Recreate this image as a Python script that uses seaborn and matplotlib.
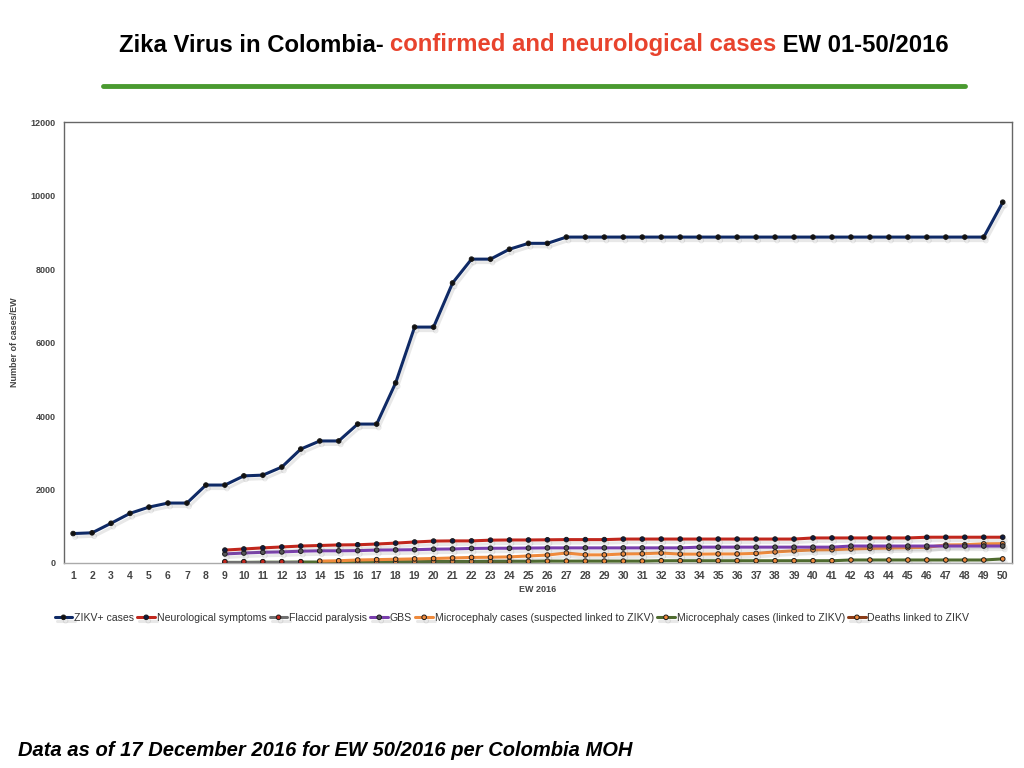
"""
Zika Virus in Colombia - confirmed and neurological cases, EW 01-50/2016
Recreation of the weekly cumulative case chart with seaborn.
"""

import numpy as np
import pandas as pd
import matplotlib
matplotlib.use('Agg')
import matplotlib.pyplot as plt
import matplotlib.patheffects as pe
from matplotlib.lines import Line2D
from matplotlib import font_manager
import seaborn as sns

sns.set_style('white')
plt.rcParams['font.family'] = ['Liberation Sans', 'DejaVu Sans']

# Narrow face for the title/legend if the system has it
installed = {f.name for f in font_manager.fontManager.ttflist}
NARROW = ['Liberation Sans Narrow', 'Liberation Sans', 'DejaVu Sans'] \
    if 'Liberation Sans Narrow' in installed else ['Liberation Sans', 'DejaVu Sans']

# Epidemiological weeks
weeks = list(range(1, 51))

# Series (NaN where the series is not reported)
nan = np.nan
zikv_cases = [800, 820, 1080, 1350, 1520, 1630, 1630, 2120, 2120, 2370,
              2390, 2610, 3100, 3320, 3320, 3780, 3780, 4900, 6420, 6420,
              7620, 8270, 8270, 8540, 8700, 8700] + [8870] * 23 + [9820]

neuro_symptoms = [nan] * 8 + [350, 380, 410, 435, 460, 475, 490, 495, 515, 540,
                              570, 595, 600, 600, 620, 625, 625, 630, 635, 635,
                              635] + [650] * 10 + [680] * 6 + [700] * 5

flaccid_paralysis = [nan] * 8 + [35, 35, 35, 35, 35] + [nan] * 37

gbs = [nan] * 8 + [245, 270, 290, 300, 320, 330, 330, 335, 350, 355,
                   360, 375, 380, 395, 400, 400, 405] + [410] * 8 + [430] * 8 + [460] * 9

micro_suspected = [nan] * 13 + [50, 60, 80, 90, 100, 110, 120, 135, 150, 155,
                                165, 190, 215, 270, 220, 220, 245, 250, 270, 240,
                                240, 245, 245, 260, 300, 330, 355, 360, 380, 395,
                                405, 415, 425, 490, 495, 520, 525]

micro_linked = [nan] * 8 + [15, 15, 20, 20, 25, 25, 30, 30, 30, 35,
                            35, 40, 40, 40, 45, 45, 45] + [50] * 6 + [60] * 10 + [80] * 8 + [110]

deaths = [nan] * 8 + [5, 5, 5, 5, 5, 8, 8, 8, 10, 10,
                      10, 12, 12, 18, 20, 22] + [nan] * 26

series_names = ['ZIKV+ cases', 'Neurological symptoms', 'Flaccid paralysis', 'GBS',
                'Microcephaly cases (suspected linked to ZIKV)',
                'Microcephaly cases (linked to ZIKV)', 'Deaths linked to ZIKV']
series_values = [zikv_cases, neuro_symptoms, flaccid_paralysis, gbs,
                 micro_suspected, micro_linked, deaths]
line_colors = ['#0f2a66', '#c1271d', '#707070', '#7a3fae', '#ef8a3c', '#4f6b2f', '#8a3b17']
marker_colors = ['#111111', '#0f1a40', '#c1271d', '#555555', '#ef8a3c', '#ef8a3c', '#ef8a3c']

y_ticks = list(range(0, 12001, 2000))

df = pd.DataFrame({'week': weeks})
for name, vals in zip(series_names, series_values):
    df[name] = vals

fig = plt.figure(figsize=(10.24, 7.68), dpi=100)
ax = fig.add_axes([0.0625, 0.267, 0.926, 0.574])

shadow = [pe.SimpleLineShadow(offset=(1.5, -2.5), alpha=0.15, shadow_color='#666666'), pe.Normal()]

# Draw back to front so the large series sits on top
order = [6, 5, 4, 2, 3, 1, 0]
for i in order:
    name = series_names[i]
    sub = df[['week', name]].dropna()
    sns.lineplot(data=sub, x='week', y=name, ax=ax, color=line_colors[i],
                 linewidth=2.2, marker='o', markersize=3.3,
                 markerfacecolor=marker_colors[i], markeredgecolor='#1a1a1a',
                 markeredgewidth=0.7, label=name, path_effects=shadow,
                 zorder=3 + (6 - i))

handles, labels = ax.get_legend_handles_labels()
ax.get_legend().remove()

ax.set_xlim(0.52, 50.5)
ax.set_ylim(0, 12000)
ax.set_xticks(weeks)
ax.set_xticklabels([str(w) for w in weeks], fontsize=7.5, fontweight='bold', color='#444444')
ax.set_yticks(y_ticks)
ax.set_yticklabels([str(t) for t in y_ticks], fontsize=6.5, fontweight='bold', color='#444444')
ax.tick_params(axis='both', length=0, pad=6)
ax.set_xlabel('EW 2016', fontsize=6.5, fontweight='bold', color='#444444', labelpad=3)
ax.set_ylabel('Number of cases/EW', fontsize=6.5, fontweight='bold', color='#444444', labelpad=4)
ax.yaxis.set_label_coords(-0.047, 0.5)
for side in ['left', 'top', 'right']:
    ax.spines[side].set_color('#666666')
    ax.spines[side].set_linewidth(1.0)
ax.spines['bottom'].set_color('#aaaaaa')
ax.spines['bottom'].set_linewidth(1.0)

# Legend in original series order, one row below the axis
lookup = dict(zip(labels, handles))
leg = fig.legend([lookup[n] for n in series_names], series_names, loc='center',
                 bbox_to_anchor=(0.5, 1 - 618 / 768), ncol=7, frameon=False,
                 prop={'family': NARROW, 'size': 7.6}, handlelength=1.7,
                 handletextpad=0.15, columnspacing=0.3, borderaxespad=0)
for txt in leg.get_texts():
    txt.set_color('#333333')

# Title in three colour pieces
fig.canvas.draw()
renderer = fig.canvas.get_renderer()
parts = [('Zika Virus in Colombia- ', '#000000'),
         ('confirmed and neurological cases', '#e8432d'),
         (' EW 01-50/2016', '#000000')]
title_texts = []
for s, c in parts:
    t = fig.text(0, 1 - 45 / 768, s, fontsize=17.2, fontweight='bold', color=c,
                 family=NARROW, va='center', ha='left')
    title_texts.append(t)
widths = [t.get_window_extent(renderer).width for t in title_texts]
x0 = (113 + 955) / 2 - sum(widths) / 2
for t, w in zip(title_texts, widths):
    t.set_x(x0 / 1024)
    x0 += w

# Green rule under the title
fig.add_artist(Line2D([103 / 1024, 965 / 1024], [1 - 86 / 768, 1 - 86 / 768],
                      color='#4a9a30', linewidth=3.5, transform=fig.transFigure))

# Footer
fig.text(18 / 1024, 1 - 750 / 768, 'Data as of 17 December 2016 for EW 50/2016 per Colombia MOH',
         fontsize=14.5, fontweight='bold', fontstyle='italic', color='#000000',
         va='center', ha='left')

fig.savefig('out.png', dpi=100)
